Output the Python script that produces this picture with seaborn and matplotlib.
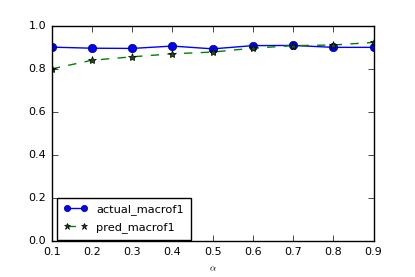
import matplotlib
matplotlib.use('Agg')
import matplotlib.pyplot as plt
import seaborn as sns
import pandas as pd

# values
alpha = [0.1, 0.2, 0.3, 0.4, 0.5, 0.6, 0.7, 0.8, 0.9]
actual_macrof1 = [0.903, 0.898, 0.897, 0.908, 0.895, 0.910, 0.911, 0.902, 0.902]
pred_macrof1 = [0.802, 0.842, 0.858, 0.872, 0.880, 0.898, 0.910, 0.913, 0.925]

df = pd.DataFrame({'alpha': alpha, 'actual_macrof1': actual_macrof1, 'pred_macrof1': pred_macrof1})

plt.style.use('classic')
plt.rcParams['font.size'] = 8

fig, ax = plt.subplots(figsize=(4.15, 2.77), dpi=100)
fig.subplots_adjust(left=0.125, right=0.9, bottom=0.13, top=0.905)

sns.lineplot(data=df, x='alpha', y='actual_macrof1', ax=ax, color='b', marker='o',
             markersize=6, markeredgecolor='#000066', markeredgewidth=0.5, label='actual_macrof1')
sns.lineplot(data=df, x='alpha', y='pred_macrof1', ax=ax, color='g', linestyle='--', marker='*',
             markersize=6, markerfacecolor='#1a4d1a', markeredgecolor='k', markeredgewidth=0.5,
             label='pred_macrof1')

ax.set_xlim(0.1, 0.9)
ax.set_ylim(0.0, 1.0)
ax.set_xlabel(r'$\alpha$', fontsize=7)
ax.set_ylabel('')
ax.tick_params(labelsize=8)
ax.legend(loc='lower left', bbox_to_anchor=(0.015, 0.005), borderaxespad=0,
          fontsize=8.2, numpoints=2, handlelength=2.1, handletextpad=0.75,
          borderpad=0.6, labelspacing=0.6, markerscale=0.75)

fig.savefig('out.png', dpi=100, facecolor='white')
